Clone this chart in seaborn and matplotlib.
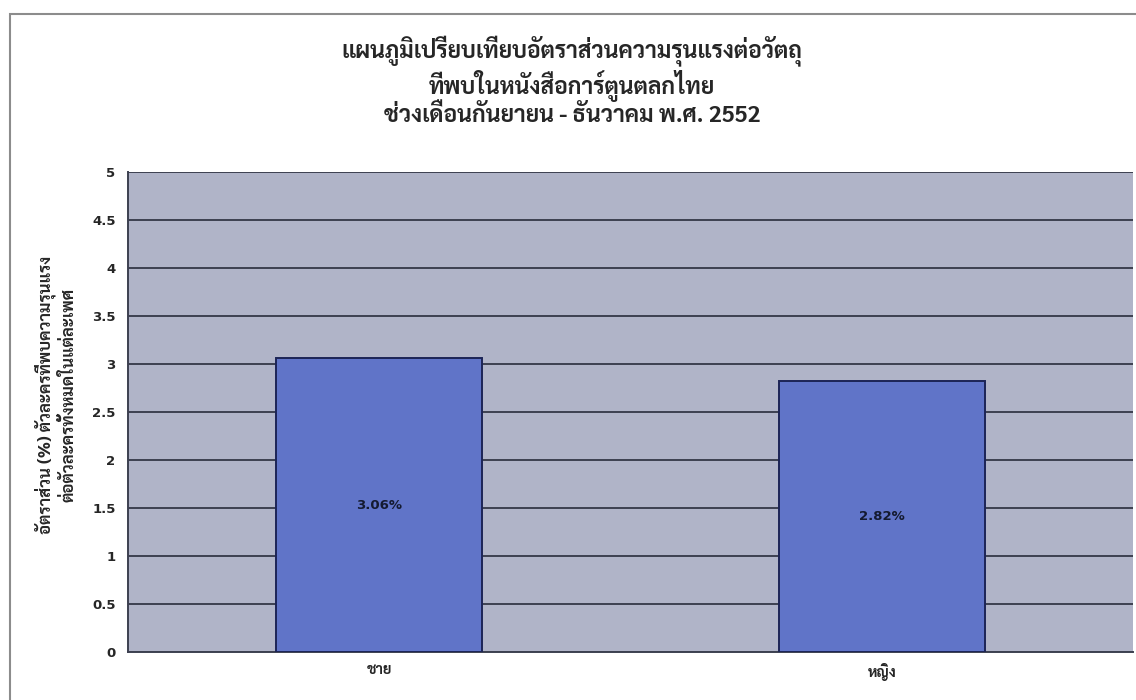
import matplotlib
matplotlib.use("Agg")
import matplotlib.pyplot as plt
from matplotlib import font_manager
from matplotlib.patches import Rectangle
import seaborn as sns
import pandas as pd

# Data
genders = ["ชาย", "หญิง"]
rates = [3.06, 2.82]
y_ticks = [0, 0.5, 1, 1.5, 2, 2.5, 3, 3.5, 4, 4.5, 5]

title = ("แผนภูมิเปรียบเทียบอัตราส่วนความรุนแรงต่อวัตถุ\n"
         "ที่พบในหนังสือการ์ตูนตลกไทย\n"
         "ช่วงเดือนกันยายน - ธันวาคม พ.ศ. 2552")
y_label = ("อัตราส่วน (%) ตัวละครที่พบความรุนแรง\n"
           "ต่อตัวละครทั้งหมดในแต่ละเพศ")

sns.set_style("white")

# Pick a Thai-capable family that ships a real bold face
bold_names = {f.name for f in font_manager.fontManager.ttflist
              if isinstance(f.weight, int) and f.weight >= 700}
thai_font = "DejaVu Sans"
for cand in ["Noto Sans Thai Looped", "Sarabun", "Noto Sans Thai",
             "Bai Jamjuree", "Athiti"]:
    if cand in bold_names:
        thai_font = cand
        break
plt.rcParams["font.family"] = [thai_font, "DejaVu Sans"]

df = pd.DataFrame({"gender": genders, "rate": rates})

fig = plt.figure(figsize=(11.36, 7.0), dpi=100)
fig.patch.set_facecolor("white")

# Outer chart-area frame
fig.add_artist(Rectangle((10 / 1136, -0.05), 1.2, 1 - 14 / 700 + 0.05,
                         transform=fig.transFigure, fill=False,
                         edgecolor="#8c8c8c", linewidth=1.5))

ax = fig.add_axes([128 / 1136, 48 / 700, 1005 / 1136, 480 / 700])
ax.set_facecolor("#b0b4c8")

sns.barplot(data=df, x="gender", y="rate", ax=ax, color="#6074c8",
            width=0.41, edgecolor="#1c2456", linewidth=1.4,
            saturation=1, zorder=3)

ax.set_ylim(0, 5)
ax.set_xlim(-0.5, 1.5)
ax.set_yticks(y_ticks)
ax.set_yticklabels([f"{t:g}" for t in y_ticks], fontsize=9.5,
                   fontweight="bold", family=["DejaVu Sans"])
for t in y_ticks:
    ax.axhline(t, color="#3c4050", linewidth=1.4, zorder=1)

ax.set_xticks([0, 1])
ax.set_xticklabels(genders, fontsize=10.5, fontweight="bold")
ax.set_xticks([-0.5, 0.5, 1.5], minor=True)
ax.tick_params(axis="x", which="major", length=0, pad=8)
ax.tick_params(axis="x", which="minor", length=5, color="#3c4050", width=1.2)
ax.tick_params(axis="y", length=5, color="#3c4050", width=1.2, pad=4)

for side in ["top", "right"]:
    ax.spines[side].set_visible(False)
for side in ["left", "bottom"]:
    ax.spines[side].set_color("#3c4050")
    ax.spines[side].set_linewidth(1.4)

ax.set_xlabel("")
ax.set_ylabel(y_label, fontsize=12, fontweight="bold", linespacing=1.35,
              va="center", ha="center")
ax.yaxis.set_label_coords(-0.072, 0.535)

for cont in ax.containers:
    ax.bar_label(cont, labels=[f"{v:.2f}%" for v in rates],
                 label_type="center", fontsize=9.5, fontweight="bold",
                 color="#141a30", family=["DejaVu Sans"])

fig.text(572 / 1136, 1 - 36 / 700, title, ha="center", va="top",
         fontsize=16.5, fontweight="bold", linespacing=1.12)

fig.savefig("out.png", dpi=100)
